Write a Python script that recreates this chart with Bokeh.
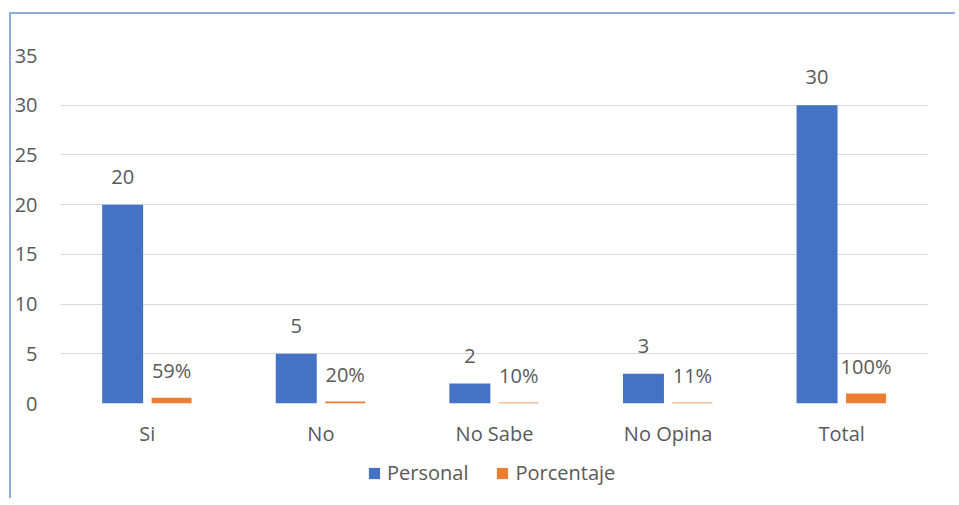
from bokeh.plotting import figure
from bokeh.layouts import column
from bokeh.models import ColumnDataSource, FactorRange, Range1d, FixedTicker, Legend, LegendItem
from bokeh.transform import dodge
from bokeh.core.properties import value
from bokeh.embed import file_html
from bokeh.resources import INLINE

categories = ["Si", "No", "No Sabe", "No Opina", "Total"]
personal = [20, 5, 2, 3, 30]
porcentaje = [0.59, 0.20, 0.10, 0.11, 1.00]
personal_labels = ["20", "5", "2", "3", "30"]
porcentaje_labels = ["59%", "20%", "10%", "11%", "100%"]
y_ticks = [0, 5, 10, 15, 20, 25, 30, 35]
series_names = ["Personal", "Porcentaje"]

FONT = "Open Sans"
TXT = "#595959"
BLUE = "#4472C4"
ORANGE = "#ED7D31"
FRAME = "#8FAADC"
FS = "20px"

src = ColumnDataSource(dict(cat=categories, personal=personal, porcentaje=porcentaje,
                            pl=personal_labels, ql=porcentaje_labels))

p = figure(x_range=FactorRange(*categories), y_range=Range1d(0, 35),
           width=946, height=436, output_backend="svg", toolbar_location=None,
           min_border_left=49, min_border_right=29, min_border_top=41, min_border_bottom=47,
           styles={"border-left": "2px solid " + FRAME, "border-top": "2px solid " + FRAME})
p.outline_line_color = None
p.background_fill_color = "white"
p.border_fill_color = "white"

b1 = p.vbar(x=dodge("cat", -0.142, range=p.x_range), top="personal", width=0.236,
            source=src, fill_color=BLUE, line_color=None)
b2 = p.vbar(x=dodge("cat", 0.14, range=p.x_range), top="porcentaje", width=0.23,
            source=src, fill_color=ORANGE, line_color=None)

p.text(x=dodge("cat", -0.142, range=p.x_range), y="personal", text="pl", source=src,
       text_align="center", text_baseline="alphabetic", y_offset=-28,
       text_font=value(FONT), text_font_size=FS, text_color=TXT)
p.text(x=dodge("cat", 0.14, range=p.x_range), y="porcentaje", text="ql", source=src,
       text_align="center", text_baseline="alphabetic", y_offset=-27,
       text_font=value(FONT), text_font_size=FS, text_color=TXT)

p.yaxis.ticker = FixedTicker(ticks=y_ticks)
p.ygrid.ticker = FixedTicker(ticks=y_ticks)
p.ygrid.grid_line_color = "#D9D9D9"
p.ygrid.grid_line_width = 1
p.xgrid.grid_line_color = None

for ax in (p.xaxis[0], p.yaxis[0]):
    ax.axis_line_color = None
    ax.major_tick_line_color = None
    ax.minor_tick_line_color = None
    ax.major_tick_out = 0
    ax.major_tick_in = 0
    ax.minor_tick_out = 0
    ax.major_label_text_font = FONT
    ax.major_label_text_font_size = FS
    ax.major_label_text_color = TXT
p.yaxis.major_label_standoff = 23
p.xaxis.major_label_standoff = 16

# legend strip below the chart (its bars have zero size, only the legend shows)
lf = figure(x_range=Range1d(0, 1), y_range=Range1d(0, 1), width=946, height=50,
            output_backend="svg", toolbar_location=None,
            x_axis_location=None, y_axis_location=None,
            min_border_left=0, min_border_right=0, min_border_top=0, min_border_bottom=0,
            styles={"border-left": "2px solid " + FRAME})
lf.grid.visible = False
lf.outline_line_color = None
lf.background_fill_color = "white"
lf.border_fill_color = "white"
lb1 = lf.vbar(x="porcentaje", top=0, bottom=0, width=0, source=src,
              fill_color=BLUE, line_color=None)
lb2 = lf.vbar(x="porcentaje", top=0, bottom=0, width=0, source=src,
              fill_color=ORANGE, line_color=None)

legend = Legend(items=[LegendItem(label=series_names[0], renderers=[lb1]),
                       LegendItem(label=series_names[1], renderers=[lb2])],
                orientation="horizontal", location=(307, 12),
                glyph_width=14, glyph_height=14, label_standoff=6, spacing=27,
                label_text_font=FONT, label_text_font_size=FS, label_text_color=TXT,
                border_line_color=None, background_fill_alpha=0, margin=0, padding=0)
lf.add_layout(legend)

layout = column(p, lf, spacing=0, margin=(12, 0, 0, 9))

open("out.html", "w").write(file_html(layout, INLINE))
